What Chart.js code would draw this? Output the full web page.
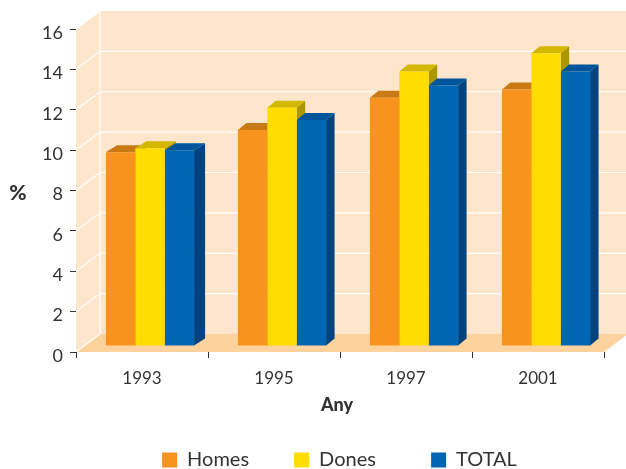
<!DOCTYPE html>
<html>
<head>
<meta charset="utf-8">
<style>html,body{margin:0;padding:0;background:#fff}#wrap{width:626px;height:469px}</style>
<script src="https://cdn.jsdelivr.net/npm/chart.js@4"></script>
</head>
<body>
<div id="wrap"><canvas id="c" width="626" height="469"></canvas></div>
<script>
const categories = ['1993', '1995', '1997', '2001'];
const homes = [9.6, 10.7, 12.3, 12.7];
const dones = [9.8, 11.8, 13.6, 14.5];
const total = [9.7, 11.2, 12.9, 13.6];
const seriesNames = ['Homes', 'Dones', 'TOTAL'];
const frontColors = ['#F8931D', '#FFDD00', '#0066B3'];
const topColors = ['#C97A14', '#D4B700', '#00559A'];
const sideColors = ['#A87010', '#AD9700', '#00437F'];
const barShift = {x: 8, y: -6};
const barDepth = {x: [11, 8.5, 8.5, 8.5], y: 7};
const wallDepth = {x: 24, y: -18};
const FONT = 'Lato, "Open Sans", sans-serif';
const INK = '#333333';
const legendPadding = 45;
const legendNudge = 25;
const legendRowTop = 450;
const legendTrail = ['', '  ', ''];

function poly(ctx, pts, fill) {
  ctx.beginPath();
  pts.forEach((p, i) => i ? ctx.lineTo(p[0], p[1]) : ctx.moveTo(p[0], p[1]));
  ctx.closePath();
  ctx.fillStyle = fill;
  ctx.fill();
}

const box3d = {
  id: 'box3d',
  afterLayout(chart) {
    const l = chart.legend;
    l.left += legendNudge;
    l.right += legendNudge;
    l.top = legendRowTop - legendPadding;
    l.bottom = chart.height;
  },
  beforeDraw(chart) {
    const {ctx, chartArea: a, scales: {y}} = chart;
    const dx = wallDepth.x, dy = wallDepth.y;
    ctx.save();
    poly(ctx, [[a.left + dx, a.top + dy], [a.right + dx, a.top + dy], [a.right + dx, a.bottom + dy], [a.left + dx, a.bottom + dy]], '#FDE6CC');
    poly(ctx, [[a.left, a.top], [a.left + dx, a.top + dy], [a.left + dx, a.bottom + dy], [a.left, a.bottom]], '#FDE6CC');
    poly(ctx, [[a.left, a.bottom], [a.left + dx, a.bottom + dy], [a.right + dx, a.bottom + dy], [a.right, a.bottom]], '#FED29C');
    ctx.strokeStyle = '#FFFFFF';
    ctx.lineWidth = 1.2;
    y.ticks.forEach(t => {
      const py = y.getPixelForValue(t.value);
      ctx.beginPath();
      ctx.moveTo(a.left, py);
      ctx.lineTo(a.left + dx, py + dy);
      if (t.value > 0 && t.value < 16) ctx.lineTo(a.right + dx, py + dy);
      ctx.stroke();
    });
    ctx.beginPath();
    ctx.moveTo(a.left + dx, a.top + dy);
    ctx.lineTo(a.left + dx, a.bottom + dy);
    ctx.stroke();
    ctx.restore();
  },
  beforeDatasetsDraw(chart) {
    const ctx = chart.ctx;
    ctx.save();
    ctx.translate(barShift.x, barShift.y);
    categories.forEach((_, i) => {
      const dx = barDepth.x[i], dy = barDepth.y;
      seriesNames.forEach((_, s) => {
        const b = chart.getDatasetMeta(s).data[i];
        const l = b.x - b.width / 2, r = b.x + b.width / 2, t = b.y, base = b.base;
        poly(ctx, [[r, t], [r + dx, t - dy], [r + dx, base - dy], [r, base]], sideColors[s]);
        poly(ctx, [[l, t], [l + dx, t - dy], [r + dx, t - dy], [r, t]], topColors[s]);
      });
    });
  },
  afterDatasetsDraw(chart) {
    chart.ctx.restore();
  },
  afterDraw(chart) {
    const ctx = chart.ctx;
    ctx.save();
    ctx.fillStyle = INK;
    ctx.textAlign = 'center';
    ctx.textBaseline = 'middle';
    ctx.font = '900 21px ' + FONT;
    ctx.fillText('%', 18, 193);
    ctx.font = '900 18px ' + FONT;
    ctx.fillText('Any', 337, 405);
    ctx.restore();
  }
};

const seriesValues = [homes, dones, total];
new Chart(document.getElementById('c'), {
  type: 'bar',
  data: {
    labels: categories,
    datasets: seriesNames.map((name, s) => ({
      label: name,
      data: seriesValues[s],
      backgroundColor: frontColors[s],
      borderWidth: 0,
      clip: false,
      categoryPercentage: 0.668,
      barPercentage: 1
    }))
  },
  options: {
    responsive: false,
    animation: false,
    events: [],
    layout: {padding: {left: 25, right: 22, top: 29, bottom: 0}},
    plugins: {
      tooltip: {enabled: false},
      title: {display: false},
      legend: {
        position: 'bottom',
        maxHeight: 17,
        labels: {
          boxWidth: 15,
          boxHeight: 15,
          padding: legendPadding,
          color: INK,
          font: {family: FONT, size: 20},
          generateLabels(chart) {
            return Chart.defaults.plugins.legend.labels.generateLabels(chart)
              .map((item, i) => ({...item, text: item.text + legendTrail[i]}));
          }
        }
      }
    },
    scales: {
      x: {
        afterFit(s) { s.height = 100; },
        border: {display: false},
        grid: {drawOnChartArea: false, drawTicks: true, tickLength: 6, color: INK, tickColor: INK, lineWidth: 1},
        ticks: {color: INK, padding: 10, maxRotation: 0, font: {family: FONT, size: 17}}
      },
      y: {
        min: 0,
        max: 16,
        afterFit(s) { s.width = 51; },
        border: {display: false},
        grid: {drawOnChartArea: false, drawTicks: true, tickLength: 6, color: INK, tickColor: INK, lineWidth: 1},
        ticks: {stepSize: 2, color: INK, padding: 7, labelOffset: 4, font: {family: FONT, size: 18}}
      }
    }
  },
  plugins: [box3d]
});
</script>
</body>
</html>
